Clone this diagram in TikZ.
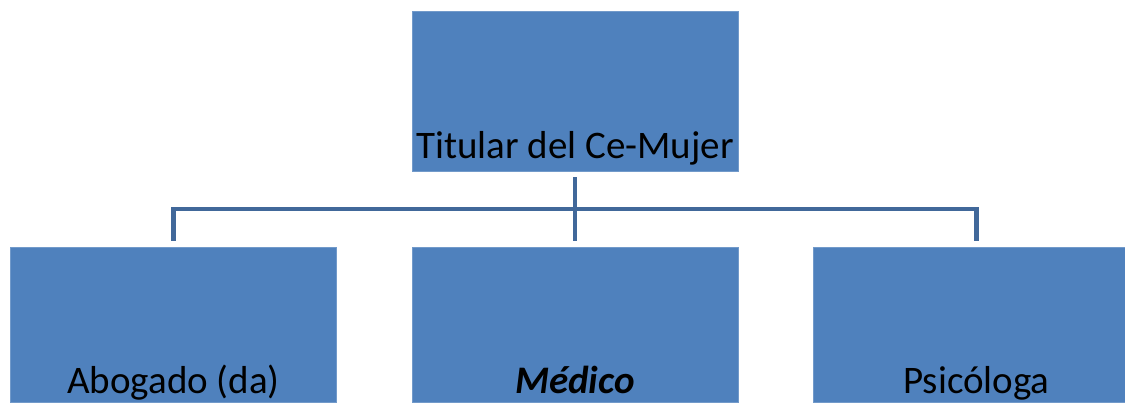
\documentclass[tikz,border=0pt]{standalone}
\usepackage{fontspec}
\setmainfont{Carlito}
\definecolor{boxblue}{HTML}{4F81BD}
\definecolor{lineblue}{HTML}{41689A}
\begin{document}
\begin{tikzpicture}[x=1pt,y=-1pt,
  orgbox/.style={rectangle, fill=boxblue, draw=boxblue!80!white, line width=0.6pt,
    inner sep=0pt, minimum width=326pt, align=center,
    font=\fontsize{39}{44}\selectfont},
  topbox/.style={orgbox, text height=147pt, text depth=13pt},
  childbox/.style={orgbox, text height=146pt, text depth=9pt},
  conn/.style={draw=lineblue, line width=4.5pt}]
\useasboundingbox (0,0) rectangle (1125,402);
\begin{scope}
\clip (0,0) rectangle (1125,402);
\node[topbox] (top) at (575,91) {Titular del Ce-Mujer};
\node[childbox] (abog) at (173.5,324.5) {Abogado (da)};
\node[childbox] (med) at (575,324.5) {\textbf{\textit{Médico}}};
\node[childbox] (psi) at (976.5,324.5) {Psicóloga};
\coordinate (hub) at (575,209);
\coordinate (lt) at (abog.north |- hub);
\coordinate (rt) at (psi.north |- hub);
\draw[conn] ([yshift=-6pt]top.south) -- ([yshift=6pt]med.north);
\draw[conn] ([yshift=6pt]abog.north) -- (lt) -- (rt) -- ([yshift=6pt]psi.north);
\end{scope}
\end{tikzpicture}
\end{document}
